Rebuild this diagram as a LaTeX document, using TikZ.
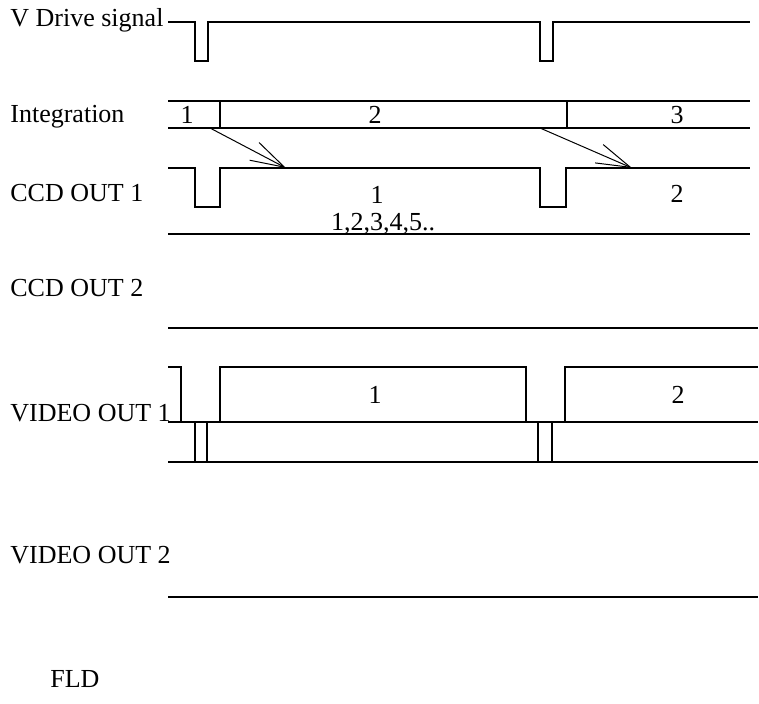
\documentclass[tikz,border=0pt]{standalone}
\usepackage{fontspec}
\setmainfont{Liberation Serif}
\usetikzlibrary{arrows.meta,positioning}

\begin{document}
\begin{tikzpicture}[x=0.5pt, y=-0.5pt,
    lbl/.style={anchor=base west, font=\fontsize{13}{15}\selectfont, inner sep=0pt},
    num/.style={anchor=base, font=\fontsize{13}{15}\selectfont, inner sep=0pt},
    sig/.style={line width=0.6pt},
    arr/.style={-{Straight Barb[length=17pt, width=10pt]}, line width=0.5pt}
]
    \useasboundingbox (0,0) rectangle (759,703);

    % Row labels
    \node[lbl] (vdrive) at (10,26) {V Drive signal};
    \node[lbl] (integ) at (10,122) {Integration};
    \node[lbl] (ccd1) at (10,201) {CCD OUT 1};
    \node[lbl] (ccd2) at (10,296) {CCD OUT 2};
    \node[lbl] (vid1) at (10,421) {VIDEO OUT 1};
    \node[lbl] (vid2) at (10,563) {VIDEO OUT 2};
    \node[lbl] (fld) at (50,687) {FLD};

    % V drive signal
    \draw[sig] (168,22) -- (195,22) -- (195,61) -- (208,61) -- (208,22)
        -- (540,22) -- (540,61) -- (553,61) -- (553,22) -- (750,22);

    % Integration periods
    \draw[sig] (168,101) -- (750,101);
    \draw[sig] (168,128) -- (750,128);
    \draw[sig] (220,101) -- (220,128);
    \draw[sig] (567,101) -- (567,128);
    \node[num] (int1) at (187,123) {1};
    \node[num] (int2) at (375,123) {2};
    \node[num] (int3) at (677,123) {3};

    % CCD OUT 1
    \draw[sig] (168,168) -- (195,168) -- (195,207) -- (220,207) -- (220,168)
        -- (540,168) -- (540,207) -- (566,207) -- (566,168) -- (750,168);
    \draw[sig] (168,234) -- (750,234);
    \node[num] (ccdA) at (377,203) {1};
    \node[num] (ccdB) at (677,202) {2};
    \node[num] (lines) at (383,230) {1,2,3,4,5..};

    % Charge transfer
    \coordinate (from1) at (210,128);
    \coordinate (to1) at (286,168);
    \coordinate (from2) at (540,128);
    \coordinate (to2) at (632,168);
    \draw[arr] (from1) -- (to1);
    \draw[arr] (from2) -- (to2);

    % CCD OUT 2
    \draw[sig] (168,328) -- (758,328);

    % VIDEO OUT 1
    \draw[sig] (168,367) -- (181,367) -- (181,422);
    \draw[sig] (168,422) -- (758,422);
    \draw[sig] (220,422) -- (220,367) -- (526,367) -- (526,422);
    \draw[sig] (565,422) -- (565,367) -- (758,367);
    \draw[sig] (168,462) -- (758,462);
    \foreach \x in {195,207,538,552}
        \draw[sig] (\x,422) -- (\x,462);
    \node[num] (vidA) at (375,403) {1};
    \node[num] (vidB) at (678,403) {2};

    % VIDEO OUT 2
    \draw[sig] (168,597) -- (758,597);
\end{tikzpicture}
\end{document}
